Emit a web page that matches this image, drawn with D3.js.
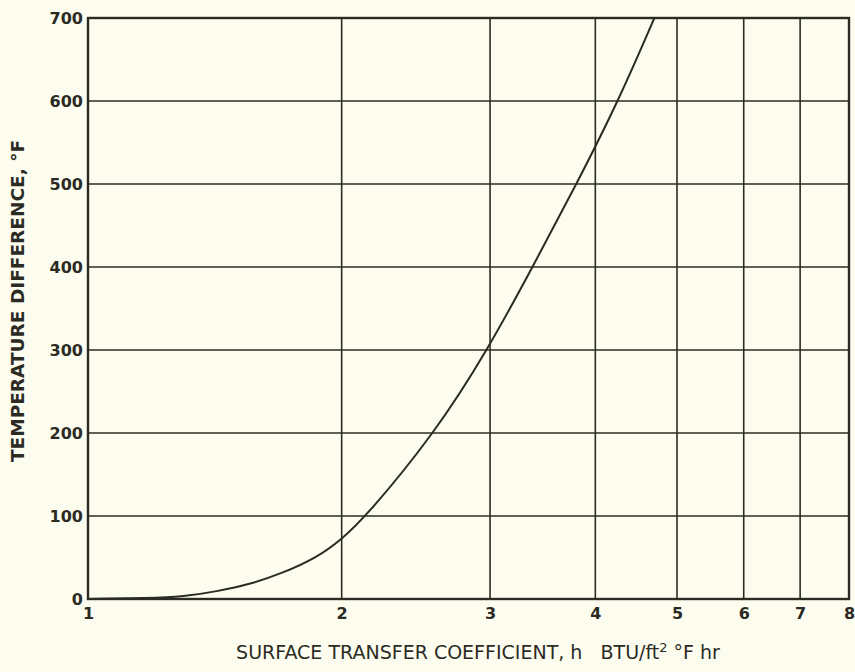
<!DOCTYPE html>
<html>
<head>
<meta charset="utf-8">
<script src="https://cdn.jsdelivr.net/npm/d3@7"></script>
<style>
  body { margin: 0; background: #fdfdef; }
  svg { display: block; }
</style>
</head>
<body>
<svg id="chart"></svg>
<script>
// curve
var coeff = [1.0, 1.18, 1.30, 1.42, 1.56, 1.70, 1.87, 2.0, 2.14, 2.58, 2.98, 3.37, 3.80, 4.26, 4.70];
var tempDiff = [0, 1, 3, 9, 18, 31, 50, 72, 100, 200, 300, 400, 500, 600, 700];
var xTicks = [1, 2, 3, 4, 5, 6, 7, 8];
var yTicks = [0, 100, 200, 300, 400, 500, 600, 700];

var margin = { top: 18, right: 6, bottom: 73, left: 88 };
var width = 855 - margin.left - margin.right;
var height = 672 - margin.top - margin.bottom;
var ink = "#2b2b24";

var svg = d3.select("#chart")
  .attr("width", 855)
  .attr("height", 672)
  .append("g")
  .attr("transform", "translate(" + margin.left + "," + margin.top + ")");

var x = d3.scaleLog().domain([1, 8]).range([0, width]);
var y = d3.scaleLinear().domain([0, 700]).range([height, 0]);

// grid
svg.append("g")
  .selectAll("line")
  .data(xTicks)
  .enter()
  .append("line")
  .attr("x1", function (d) { return x(d); })
  .attr("x2", function (d) { return x(d); })
  .attr("y1", 0)
  .attr("y2", height)
  .attr("stroke", ink)
  .attr("stroke-width", 1.6);

svg.append("g")
  .selectAll("line")
  .data(yTicks)
  .enter()
  .append("line")
  .attr("x1", 0)
  .attr("x2", width)
  .attr("y1", function (d) { return y(d); })
  .attr("y2", function (d) { return y(d); })
  .attr("stroke", ink)
  .attr("stroke-width", 1.6);

// frame
svg.append("rect")
  .attr("width", width)
  .attr("height", height)
  .attr("fill", "none")
  .attr("stroke", ink)
  .attr("stroke-width", 2.4);

// axes (labels only)
var xAxis = svg.append("g")
  .attr("transform", "translate(0," + height + ")")
  .call(d3.axisBottom(x).tickValues(xTicks).tickFormat(d3.format("d")).tickSize(0).tickPadding(9));
var yAxis = svg.append("g")
  .call(d3.axisLeft(y).tickValues(yTicks).tickSize(0).tickPadding(5));

[xAxis, yAxis].forEach(function (a) {
  a.select(".domain").remove();
  a.selectAll("text")
    .attr("fill", ink)
    .style("font-family", "'DejaVu Sans', sans-serif")
    .style("font-size", "16px")
    .style("font-weight", "bold");
});

// the curve
var pts = coeff.map(function (c, i) { return [c, tempDiff[i]]; });
svg.append("path")
  .datum(pts)
  .attr("fill", "none")
  .attr("stroke", ink)
  .attr("stroke-width", 2)
  .attr("d", d3.line()
    .x(function (d) { return x(d[0]); })
    .y(function (d) { return y(d[1]); })
    .curve(d3.curveBasis));

// titles
svg.append("text")
  .attr("x", 390)
  .attr("y", height + 60)
  .attr("text-anchor", "middle")
  .attr("fill", ink)
  .style("font-family", "'DejaVu Sans', sans-serif")
  .style("font-size", "19px")
  .html("SURFACE TRANSFER COEFFICIENT, h&#160;&#160;&#160;BTU/ft<tspan dy='-7' font-size='13'>2</tspan><tspan dy='7'> °F hr</tspan>");

svg.append("text")
  .attr("transform", "translate(" + (-64) + "," + 283 + ") rotate(-90)")
  .attr("text-anchor", "middle")
  .attr("fill", ink)
  .style("font-family", "'DejaVu Sans', sans-serif")
  .style("font-size", "18.5px")
  .style("font-weight", "bold")
  .text("TEMPERATURE DIFFERENCE, °F");
</script>
</body>
</html>
